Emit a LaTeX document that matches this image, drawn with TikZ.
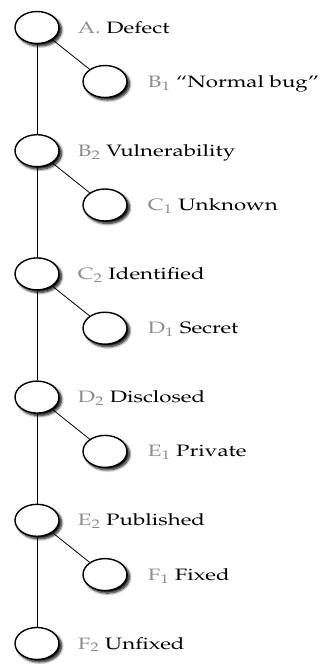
\documentclass[tikz,border=0pt]{standalone}
\usepackage[T1]{fontenc}
\usepackage{mathpazo}
\usetikzlibrary{shapes.geometric,shadows.blur,backgrounds}

\definecolor{taggray}{gray}{0.55}

\tikzset{
  stage/.style={ellipse,draw=black,line width=1.4pt,fill=white,
    minimum width=44pt,minimum height=32pt,inner sep=0pt,
    blur shadow={shadow xshift=2.5pt,shadow yshift=-2.5pt,
      shadow blur radius=2.5pt,shadow blur steps=8,shadow opacity=100}},
  tag/.style={anchor=base west,inner sep=0pt,
    font=\fontsize{16.5}{19}\selectfont},
  link/.style={draw=black,line width=0.8pt}
}

\newcommand{\stagetag}[2]{\scalebox{1.35}[1]{\textcolor{taggray}{#1}~#2}}

\begin{document}
\begin{tikzpicture}[x=1pt,y=1pt]
  \useasboundingbox (0,0) rectangle (322,-664);

  \node[stage] (a)  at ( 37, -27.5) {};
  \node[stage] (b1) at (105, -81.5) {};
  \node[stage] (b2) at ( 37,-150.7) {};
  \node[stage] (c1) at (105,-205.0) {};
  \node[stage] (c2) at ( 37,-273.9) {};
  \node[stage] (d1) at (105,-328.2) {};
  \node[stage] (d2) at ( 37,-397.1) {};
  \node[stage] (e1) at (105,-451.4) {};
  \node[stage] (e2) at ( 37,-520.3) {};
  \node[stage] (f1) at (105,-574.6) {};
  \node[stage] (f2) at ( 37,-643.5) {};

  \node[tag] (ta)  at ([xshift=18pt,yshift=-5.5pt]a.east)  {\stagetag{A.}{Defect}};
  \node[tag] (tb1) at ([xshift=20pt,yshift=-5.5pt]b1.east) {\stagetag{B$_1$}{``Normal bug''}};
  \node[tag] (tb2) at ([xshift=18pt,yshift=-5.5pt]b2.east) {\stagetag{B$_2$}{Vulnerability}};
  \node[tag] (tc1) at ([xshift=20pt,yshift=-5.5pt]c1.east) {\stagetag{C$_1$}{Unknown}};
  \node[tag] (tc2) at ([xshift=18pt,yshift=-5.5pt]c2.east) {\stagetag{C$_2$}{Identified}};
  \node[tag] (td1) at ([xshift=20pt,yshift=-5.5pt]d1.east) {\stagetag{D$_1$}{Secret}};
  \node[tag] (td2) at ([xshift=18pt,yshift=-5.5pt]d2.east) {\stagetag{D$_2$}{Disclosed}};
  \node[tag] (te1) at ([xshift=20pt,yshift=-5.5pt]e1.east) {\stagetag{E$_1$}{Private}};
  \node[tag] (te2) at ([xshift=18pt,yshift=-5.5pt]e2.east) {\stagetag{E$_2$}{Published}};
  \node[tag] (tf1) at ([xshift=20pt,yshift=-5.5pt]f1.east) {\stagetag{F$_1$}{Fixed}};
  \node[tag] (tf2) at ([xshift=18pt,yshift=-5.5pt]f2.east) {\stagetag{F$_2$}{Unfixed}};

  \begin{scope}[on background layer]
   \draw[link] (a)  -- (b2);
   \draw[link] (b2) -- (c2);
   \draw[link] (c2) -- (d2);
   \draw[link] (d2) -- (e2);
   \draw[link] (e2) -- (f2);
   \draw[link] (a)  -- (b1);
   \draw[link] (b2) -- (c1);
   \draw[link] (c2) -- (d1);
   \draw[link] (d2) -- (e1);
   \draw[link] (e2) -- (f1);
  \end{scope}
\end{tikzpicture}
\end{document}
